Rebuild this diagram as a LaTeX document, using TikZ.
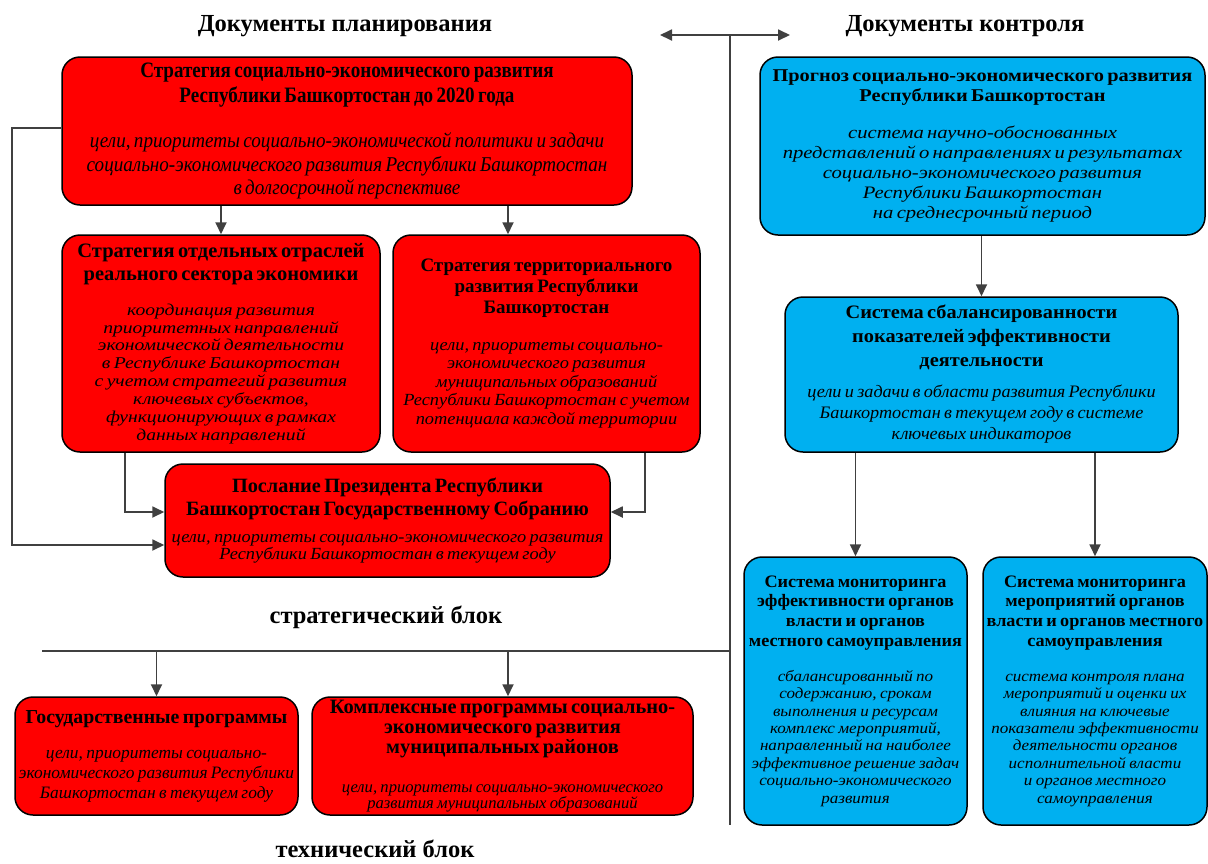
\documentclass[tikz,border=0pt]{standalone}
\usepackage{fontspec}
\setmainfont{Liberation Serif}
\usetikzlibrary{arrows.meta}
\definecolor{boxred}{HTML}{FF0000}
\definecolor{boxblue}{HTML}{00B0F0}
\definecolor{linegray}{HTML}{404040}
% #1 title size, #2 title skip, #3 title stretch, #4 title, #5 gap, #6 body size, #7 body skip, #8 body stretch, #9 body
\newcommand{\bxt}[9]{{\bfseries\fontsize{#1}{#2}\selectfont\addfontfeature{FakeStretch=#3}#4\par}\vspace{#5}{\itshape\fontsize{#6}{#7}\selectfont\addfontfeature{FakeStretch=#8}#9\par}}
\begin{document}
\begin{tikzpicture}[x=1pt,y=-1pt,
  box/.style={draw=black, line width=1.5pt, rounded corners=18pt, align=center, inner sep=0pt},
  redbox/.style={box, fill=boxred},
  bluebox/.style={box, fill=boxblue},
  conn/.style={draw=linegray, line width=1.8pt},
  arr/.style={conn, -{Triangle[length=12pt,width=11pt]}},
  dblarr/.style={conn, {Triangle[length=12pt,width=11pt]}-{Triangle[length=12pt,width=11pt]}},
  head/.style={font=\bfseries\fontsize{24.5}{28}\selectfont, inner sep=0pt}
]
\useasboundingbox (0,0) rectangle (1208,863);

% headings
\node[head] (h1) at (345,26) {Документы планирования};
\node[head] (h2) at (965,26) {Документы контроля};
\node[head] (h3) at (386,617) {стратегический блок};
\node[head] (h4) at (375,849) {технический блок};

% red boxes
\node[redbox, minimum width=570pt, minimum height=148pt, text width=566pt] (A) at (347,131)
 {\bxt{22}{25}{0.868}{Стратегия социально-экономического развития\\Республики Башкортостан до 2020 года}{21.5pt}{21}{23.5}{0.91}{цели, приоритеты социально-экономической политики и задачи\\социально-экономического развития Республики Башкортостан\\в долгосрочной перспективе}};
\node[redbox, minimum width=318pt, minimum height=217pt, text width=314pt] (B) at (221,343.5)
 {\bxt{20.5}{23}{1.0}{Стратегия отдельных отраслей\\реального сектора экономики}{17pt}{16.5}{17.9}{1.19}{координация развития\\приоритетных направлений\\экономической деятельности\\в Республике Башкортостан\\с учетом стратегий развития\\ключевых субъектов,\\функционирующих в рамках\\данных направлений}\vspace{-4pt}};
\node[redbox, minimum width=307pt, minimum height=217pt, text width=303pt] (C) at (546.5,343.5)
 {\bxt{19}{21}{1.0}{Стратегия территориального\\развития Республики\\Башкортостан}{18.5pt}{17}{18.5}{1.08}{цели, приоритеты социально-\\экономического развития\\муниципальных образований\\Республики Башкортостан с учетом\\потенциала каждой территории}\vspace{-8pt}};
\node[redbox, minimum width=445pt, minimum height=113pt, text width=441pt] (D) at (387.5,520.5)
 {\bxt{20.3}{23}{1.0}{Послание Президента Республики\\Башкортостан Государственному Собранию}{9.5pt}{17}{17.5}{1.08}{цели, приоритеты социально-экономического развития\\Республики Башкортостан в текущем году}\vspace{-6pt}};
\node[redbox, minimum width=283pt, minimum height=118pt, text width=279pt] (E) at (156.5,756)
 {\bxt{19.8}{23}{1.0}{Государственные программы}{15pt}{17.4}{20}{1.0}{цели, приоритеты социально-\\экономического развития Республики\\Башкортостан в текущем году}\vspace{-4pt}};
\node[redbox, minimum width=381pt, minimum height=118pt, text width=377pt] (F) at (502.5,756)
 {\bxt{20.4}{20}{1.0}{Комплексные программы социально-\\экономического развития\\муниципальных районов}{23pt}{16.6}{16}{1.0}{цели, приоритеты социально-экономического\\развития муниципальных образований}};

% blue boxes
\node[bluebox, minimum width=445pt, minimum height=178pt, text width=441pt] (G) at (982.5,146)
 {\bxt{18}{19.5}{1.13}{Прогноз социально-экономического развития\\Республики Башкортостан}{17pt}{17.5}{20}{1.18}{система научно-обоснованных\\представлений о направлениях и результатах\\социально-экономического развития\\Республики Башкортостан\\на среднесрочный период}};
\node[bluebox, minimum width=393pt, minimum height=155pt, text width=389pt] (H) at (981.5,374.5)
 {\bxt{19}{24}{1.07}{Система сбалансированности\\показателей эффективности\\деятельности}{10pt}{17.5}{21}{1.04}{цели и задачи в области развития Республики\\Башкортостан в текущем году в системе\\ключевых индикаторов}};
\node[bluebox, minimum width=223pt, minimum height=268pt, text width=221pt] (I) at (855.5,691)
 {\bxt{17.5}{19.7}{1.04}{Система мониторинга\\эффективности органов\\власти и органов\\местного самоуправления}{17.6pt}{15.5}{17.4}{1.10}{сбалансированный по\\содержанию, срокам\\выполнения и ресурсам\\комплекс мероприятий,\\направленный на наиболее\\эффективное решение задач\\социально-экономического\\развития}};
\node[bluebox, minimum width=224pt, minimum height=268pt, text width=222pt] (J) at (1095,691)
 {\bxt{17.5}{19.7}{1.04}{Система мониторинга\\мероприятий органов\\власти и органов местного\\самоуправления}{17.6pt}{15.5}{17.4}{1.10}{система контроля плана\\мероприятий и оценки их\\влияния на ключевые\\показатели эффективности\\деятельности органов\\исполнительной власти\\и органов местного\\самоуправления}};

% helper coordinates
\coordinate (xC) at (508,0);
\coordinate (pB) at (125,512);
\coordinate (pC) at (645,512);
\coordinate (pLt) at (12,128);
\coordinate (pLb) at (12,545);
\coordinate (dTop) at (730,35);
\coordinate (dBot) at (730,825);
\coordinate (dL) at (660,35);
\coordinate (dR) at (790,35);
\coordinate (hL) at (42,651);
\coordinate (xF) at (508,0);

% left connectors
\draw[arr] (A.south -| B.north) -- (B.north);
\draw[arr] (A.south -| xC) -- (C.north -| xC);
\draw[arr] (B.south -| pB) |- (D.west |- pB);
\draw[arr] (C.south -| pC) |- (D.east |- pC);
\draw[arr] (A.west |- pLt) -- (pLt) -- (pLb) -- (D.west |- pLb);

% divider
\draw[conn] (dTop) -- (dBot);
\draw[dblarr] (dL) -- (dR);
\draw[conn] (hL) -- (hL -| dTop);
\draw[arr] (hL -| E.north) -- (E.north);
\draw[arr] (hL -| xF) -- (F.north -| xF);

% right connectors
\draw[arr] (G.south -| H.north) -- (H.north);
\draw[arr] (H.south -| I.north) -- (I.north);
\draw[arr] (H.south -| J.north) -- (J.north);
\end{tikzpicture}
\end{document}
